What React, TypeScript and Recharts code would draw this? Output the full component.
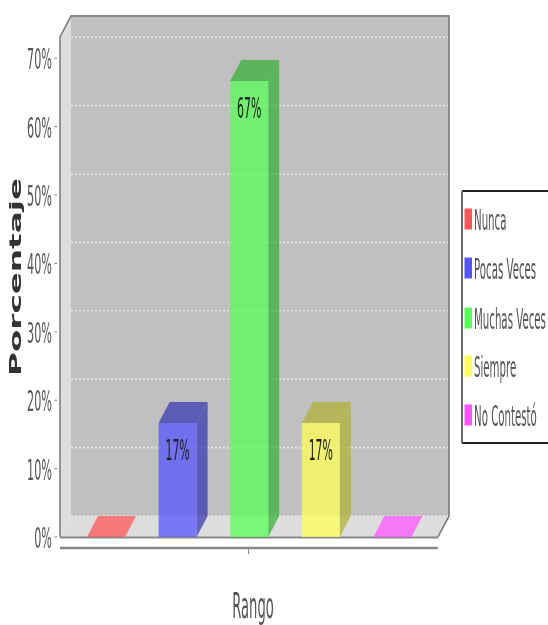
import React from "react";
import { BarChart, Bar, XAxis, YAxis, CartesianGrid, Legend, LabelList } from "recharts";

const seriesNames = ["Nunca", "Pocas Veces", "Muchas Veces", "Siempre", "No Contestó"];
const seriesValues = [0, 16.67, 66.67, 16.67, 0];
const seriesColors = ["#FF5555", "#5555FF", "#55FF55", "#FFFF55", "#FF55FF"];
const sideColors = ["#B23B3B", "#3B3BB2", "#3BB23B", "#B2B23B", "#B23BB2"];
const yTicks = [0, 10, 20, 30, 40, 50, 60, 70];
const categories = [""];
const yTitle = "Porcentaje";
const xTitle = "Rango";

const row: Record<string, string | number> = { name: categories[0] };
seriesNames.forEach((n, i) => { row[n] = seriesValues[i]; });
const data = [row];

const DX = 11;
const DY = 21;
const FONT = "'DejaVu Sans', sans-serif";

function Narrow({ x, y, size, sx, anchor = "start", fill = "#555", children }: any) {
  return (
    <text transform={`translate(${x},${y}) scale(${sx},1)`} fontSize={size} fontFamily={FONT} textAnchor={anchor} fill={fill}>
      {children}
    </text>
  );
}

function Walls() {
  return (
    <g>
      <polygon points="71,15 449,15 449,516 71,516" fill="#C0C0C0" />
      <polygon points="60,37 71,15 71,516 60,537" fill="#DDDDDD" />
      <polygon points="60,537 71,516 449,516 438,537" fill="#DDDDDD" />
      <polyline points="60,37 71,16 449,16 449,516 438,537" fill="none" stroke="#777" strokeWidth={1.6} />
      <line x1={60} y1={537.5} x2={438} y2={537.5} stroke="#888" strokeWidth={2.2} />
    </g>
  );
}

function Bar3D(props: any) {
  const { x, y, width, height, seriesIndex } = props;
  const front = seriesColors[seriesIndex];
  const flat = !(height > 0.5);
  const side = sideColors[seriesIndex];
  const r = x + width;
  const b = y + height;
  return (
    <g fillOpacity={0.75}>
      <polygon points={`${x},${y} ${r},${y} ${r + DX},${y - DY} ${x + DX},${y - DY}`} fill={flat ? front : side} />
      {!flat && <polygon points={`${r},${y} ${r + DX},${y - DY} ${r + DX},${b - DY} ${r},${b}`} fill={side} />}
      {!flat && <rect x={x} y={y} width={width} height={height} fill={front} />}
    </g>
  );
}

function BarValue(props: any) {
  const { x, y, width, value } = props;
  if (!value) return null;
  return <Narrow x={x + width / 2} y={y + 37} size={28} sx={0.39} anchor="middle" fill="#222">{`${Math.round(value)}%`}</Narrow>;
}

function YTick({ y, payload }: any) {
  return (
    <g>
      <line x1={54.5} x2={57} y1={y} y2={y} stroke="#777" />
      <Narrow x={52} y={y + 11} size={28} sx={0.4} anchor="end">{`${payload.value}%`}</Narrow>
    </g>
  );
}

function XTick({ x }: any) {
  return (
    <g>
      <line x1={60} x2={438} y1={548} y2={548} stroke="#888" strokeWidth={2.4} />
      <line x1={x - 1} x2={x - 1} y1={549} y2={554} stroke="#888" />
    </g>
  );
}

function GridLine(props: any) {
  const { x1, y1, index } = props;
  return (
    <g>
      {index === 0 && <Walls />}
      {y1 > 40 && (
        <g>
          <line x1={x1} x2={x1 + DX} y1={y1} y2={y1 - DY} stroke="#EEEEEE" strokeWidth={0.8} strokeDasharray="2 2" />
          <line x1={x1 + DX} x2={448} y1={y1 - DY} y2={y1 - DY} stroke="#E6E6E6" strokeWidth={1.6} strokeDasharray="2 2" />
        </g>
      )}
    </g>
  );
}

function LegendBox({ payload }: any) {
  const centers = [219, 268, 318, 366, 415];
  return (
    <svg width={87} height={254} style={{ display: "block" }}>
      <line x1={1} x2={87} y1={1} y2={1} stroke="#222" strokeWidth={2} />
      <line x1={1} x2={87} y1={253} y2={253} stroke="#222" strokeWidth={2} />
      <line x1={1} x2={1} y1={1} y2={253} stroke="#666" strokeWidth={2} />
      {(payload || []).map((p: any, i: number) => (
        <g key={p.value}>
          <rect x={3.5} y={centers[i] - 190 - 10.5} width={7.5} height={21} fill={p.color} />
          <Narrow x={13} y={centers[i] - 190 + 11} size={28} sx={0.365}>{p.value}</Narrow>
        </g>
      ))}
    </svg>
  );
}

export default function App() {
  return (
    <div style={{ position: "absolute", left: 0, top: 0, width: 548, height: 625, overflow: "hidden", filter: "blur(0.5px)" }}>
      <BarChart
        width={548}
        height={625}
        data={data}
        margin={{ top: 37, right: 109, bottom: 0, left: 0 }}
        barSize={38}
        barGap={33.6}
      >
        <CartesianGrid vertical={false} horizontal={(p: any) => <GridLine key={p.index} {...p} />} />
        <XAxis
          dataKey="name"
          height={88}
          axisLine={false}
          tickLine={false}
          tick={<XTick />}
          interval={0}
          label={{
            content: () => <Narrow x={253} y={618} size={35} sx={0.375} anchor="middle">{xTitle}</Narrow>,
          }}
        />
        <YAxis
          width={60}
          domain={[0, 73.1]}
          ticks={yTicks}
          allowDataOverflow
          axisLine={{ stroke: "#777", strokeWidth: 1.5 }}
          tickLine={false}
          tick={<YTick />}
          label={{
            content: () => (
              <text
                transform="translate(21,277) rotate(-90) scale(2.04,1)"
                fontSize={16}
                fontWeight="bold"
                fontFamily={FONT}
                textAnchor="middle"
                fill="#333"
              >
                {yTitle}
              </text>
            ),
          }}
        />
        <Legend
          layout="vertical"
          align="center"
          verticalAlign="middle"
          itemSorter={null}
          wrapperStyle={{ position: "absolute", left: 461, top: 190, width: 87, height: 254 }}
          content={<LegendBox />}
        />
        {seriesNames.map((n, i) => (
          <Bar
            key={n}
            dataKey={n}
            name={n}
            fill={seriesColors[i]}
            isAnimationActive={false}
            shape={(p: any) => <Bar3D {...p} seriesIndex={i} />}
          >
            <LabelList dataKey={n} content={<BarValue />} />
          </Bar>
        ))}
      </BarChart>
    </div>
  );
}
